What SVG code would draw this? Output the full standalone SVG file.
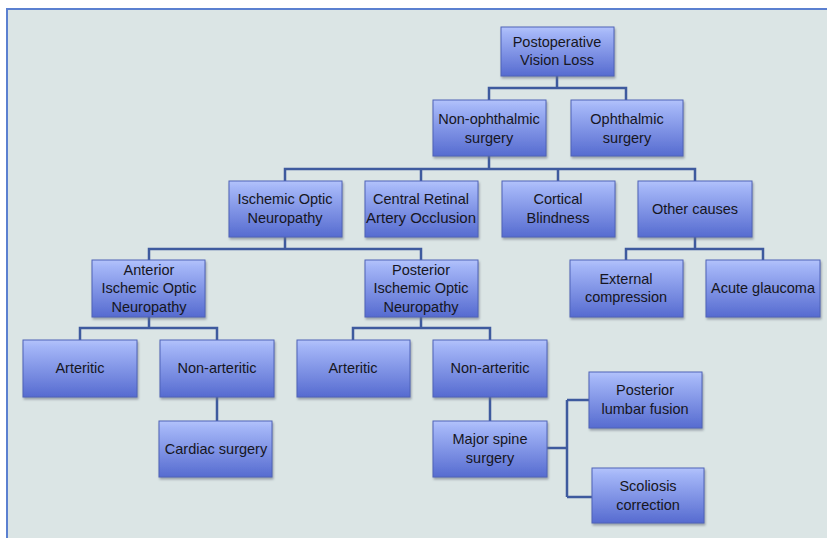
<svg xmlns="http://www.w3.org/2000/svg" width="827" height="538" viewBox="0 0 827 538">
<defs>
<linearGradient id="g" x1="0" y1="0" x2="0" y2="1">
<stop offset="0" stop-color="#b3c3fb"/>
<stop offset="0.12" stop-color="#a3b5f7"/>
<stop offset="1" stop-color="#566bd0"/>
</linearGradient>
<filter id="sh" x="-10%" y="-10%" width="125%" height="130%">
<feDropShadow dx="1" dy="2" stdDeviation="1.2" flood-color="#6a7380" flood-opacity="0.6"/>
</filter>
</defs>
<style>
.b{fill:url(#g);stroke:#4f63b8;stroke-width:1;filter:url(#sh)}
.t{font-family:"Liberation Sans",Arial,sans-serif;font-size:14.5px;fill:#161622;text-anchor:middle}
.c{fill:none;stroke:#3e5a9e;stroke-width:2.5}
</style>
<rect x="0" y="0" width="827" height="538" fill="#ffffff"/>
<rect x="7" y="9" width="830" height="540" fill="#dbe5e5" stroke="#5b80d0" stroke-width="2"/>
<g id="connectors">
<path class="c" d="M557,76 V88 H489 V100 M557,88 H626 V100"/>
<path class="c" d="M489,156 V169 H285 V181 M489,169 H695 V181 M421,169 V181 M558,169 V181"/>
<path class="c" d="M285,237 V249 H149 V260 M285,249 H421 V260"/>
<path class="c" d="M695,237 V249 H626 V260 M695,249 H763 V260"/>
<path class="c" d="M149,317 V328 H80 V340 M149,328 H217 V340"/>
<path class="c" d="M421,317 V328 H353 V340 M421,328 H490 V340"/>
<path class="c" d="M217,397 V421 M490,397 V421"/>
<path class="c" d="M547,448 H567 M567,400 V497 M567,400 H589 M567,497 H592"/>
</g>
<g id="root"><rect class="b" x="501" y="27" width="113" height="49"/><text class="t" x="557" y="47">Postoperative</text><text class="t" x="557" y="65">Vision Loss</text></g>
<g id="nonophth"><rect class="b" x="433" y="100" width="113" height="56"/><text class="t" x="489" y="124">Non-ophthalmic</text><text class="t" x="489" y="143">surgery</text></g>
<g id="ophth"><rect class="b" x="571" y="100" width="112" height="56"/><text class="t" x="627" y="124">Ophthalmic</text><text class="t" x="627" y="143">surgery</text></g>
<g id="ion"><rect class="b" x="229" y="181" width="113" height="56"/><text class="t" x="285" y="204">Ischemic Optic</text><text class="t" x="285" y="223">Neuropathy</text></g>
<g id="crao"><rect class="b" x="365" y="181" width="113" height="56"/><text class="t" x="421" y="204">Central Retinal</text><text class="t" x="421" y="223" textLength="110" lengthAdjust="spacingAndGlyphs">Artery Occlusion</text></g>
<g id="cortical"><rect class="b" x="502" y="181" width="113" height="56"/><text class="t" x="558" y="204">Cortical</text><text class="t" x="558" y="223">Blindness</text></g>
<g id="other"><rect class="b" x="638" y="181" width="114" height="56"/><text class="t" x="695" y="214">Other causes</text></g>
<g id="aion"><rect class="b" x="92" y="260" width="113" height="57"/><text class="t" x="149" y="275">Anterior</text><text class="t" x="149" y="293">Ischemic Optic</text><text class="t" x="149" y="312">Neuropathy</text></g>
<g id="pion"><rect class="b" x="365" y="260" width="113" height="57"/><text class="t" x="421" y="275">Posterior</text><text class="t" x="421" y="293">Ischemic Optic</text><text class="t" x="421" y="312">Neuropathy</text></g>
<g id="external"><rect class="b" x="570" y="260" width="113" height="57"/><text class="t" x="626" y="284">External</text><text class="t" x="626" y="302">compression</text></g>
<g id="glaucoma"><rect class="b" x="706" y="260" width="114" height="57"/><text class="t" x="763" y="293">Acute glaucoma</text></g>
<g id="arteritic1"><rect class="b" x="23" y="340" width="114" height="57"/><text class="t" x="80" y="373">Arteritic</text></g>
<g id="nonarteritic1"><rect class="b" x="160" y="340" width="114" height="57"/><text class="t" x="217" y="373">Non-arteritic</text></g>
<g id="arteritic2"><rect class="b" x="297" y="340" width="113" height="57"/><text class="t" x="353" y="373">Arteritic</text></g>
<g id="nonarteritic2"><rect class="b" x="433" y="340" width="114" height="57"/><text class="t" x="490" y="373">Non-arteritic</text></g>
<g id="cardiac"><rect class="b" x="159" y="421" width="113" height="56"/><text class="t" x="216" y="454">Cardiac surgery</text></g>
<g id="spine"><rect class="b" x="433" y="421" width="114" height="56"/><text class="t" x="490" y="444">Major spine</text><text class="t" x="490" y="463">surgery</text></g>
<g id="lumbar"><rect class="b" x="589" y="372" width="113" height="56"/><text class="t" x="645" y="395">Posterior</text><text class="t" x="645" y="414">lumbar fusion</text></g>
<g id="scoliosis"><rect class="b" x="592" y="468" width="112" height="55"/><text class="t" x="648" y="491">Scoliosis</text><text class="t" x="648" y="510">correction</text></g>
</svg>
